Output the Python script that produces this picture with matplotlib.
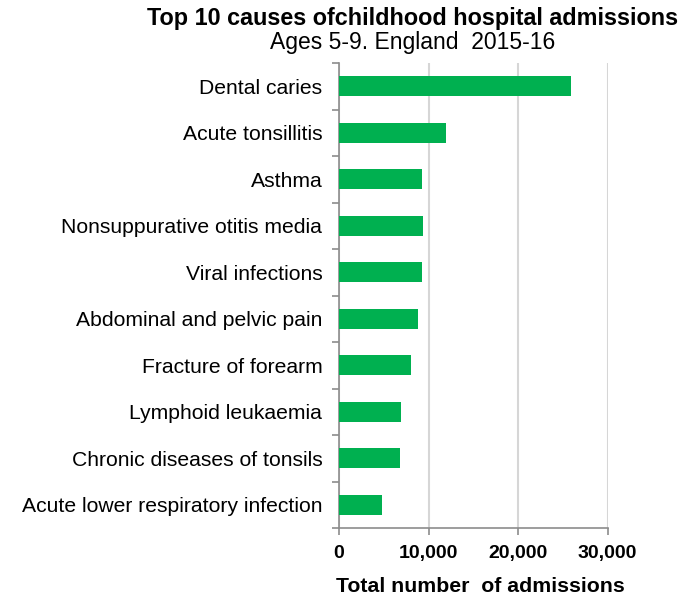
import matplotlib.pyplot as plt
from matplotlib.ticker import FuncFormatter, FixedLocator

plt.rcParams['font.family'] = ['Liberation Sans', 'DejaVu Sans']

causes = ['Dental caries', 'Acute tonsillitis', 'Asthma', 'Nonsuppurative otitis media',
          'Viral infections', 'Abdominal and pelvic pain', 'Fracture of forearm',
          'Lymphoid leukaemia', 'Chronic diseases of tonsils',
          'Acute lower respiratory infection']
admissions = [25950, 11900, 9300, 9350, 9300, 8850, 8050, 6900, 6800, 4750]
x_ticks = [0, 10000, 20000, 30000]

fig = plt.figure(figsize=(6.94, 5.99), dpi=100)
ax = fig.add_axes([339 / 694, 1 - 528 / 599, 268.5 / 694, 465 / 599])

ypos = list(range(len(causes)))
ax.barh(ypos, admissions, height=0.42, color='#00B050', zorder=3)
ax.set_ylim(len(causes) - 0.5, -0.5)
ax.set_xlim(0, 30000)

ax.set_yticks(ypos)
ax.set_yticklabels(causes, fontsize=15.2)
ax.yaxis.set_minor_locator(FixedLocator([i - 0.5 for i in range(len(causes) + 1)]))
ax.tick_params(axis='y', which='major', length=0, pad=12)
ax.tick_params(axis='y', which='minor', length=5, color='#8c8c8c', width=1.2)

ax.set_xticks(x_ticks)
ax.xaxis.set_major_formatter(FuncFormatter(lambda v, p: '{:,.0f}'.format(v)))
ax.tick_params(axis='x', length=5, color='#8c8c8c', width=1.2, labelsize=14, pad=7)
for lbl in ax.get_xticklabels():
    lbl.set_fontweight('bold')

ax.grid(axis='x', color='#d6d6d6', linewidth=1.5, zorder=0)
for s in ['top', 'right']:
    ax.spines[s].set_visible(False)
for s in ['left', 'bottom']:
    ax.spines[s].set_color('#8c8c8c')
    ax.spines[s].set_linewidth(1.2)

ax.set_xlabel('Total number  of admissions', fontsize=15.3, fontweight='bold')
ax.xaxis.set_label_coords(0.527, -0.105)

fig.text(413 / 694, 1 - 18 / 599, 'Top 10 causes ofchildhood hospital admissions',
         ha='center', va='center', fontsize=16.8, fontweight='bold')
fig.text(413 / 694, 1 - 43 / 599, 'Ages 5-9. England  2015-16',
         ha='center', va='center', fontsize=16.5)

fig.savefig('out.png', dpi=100, facecolor='white')
